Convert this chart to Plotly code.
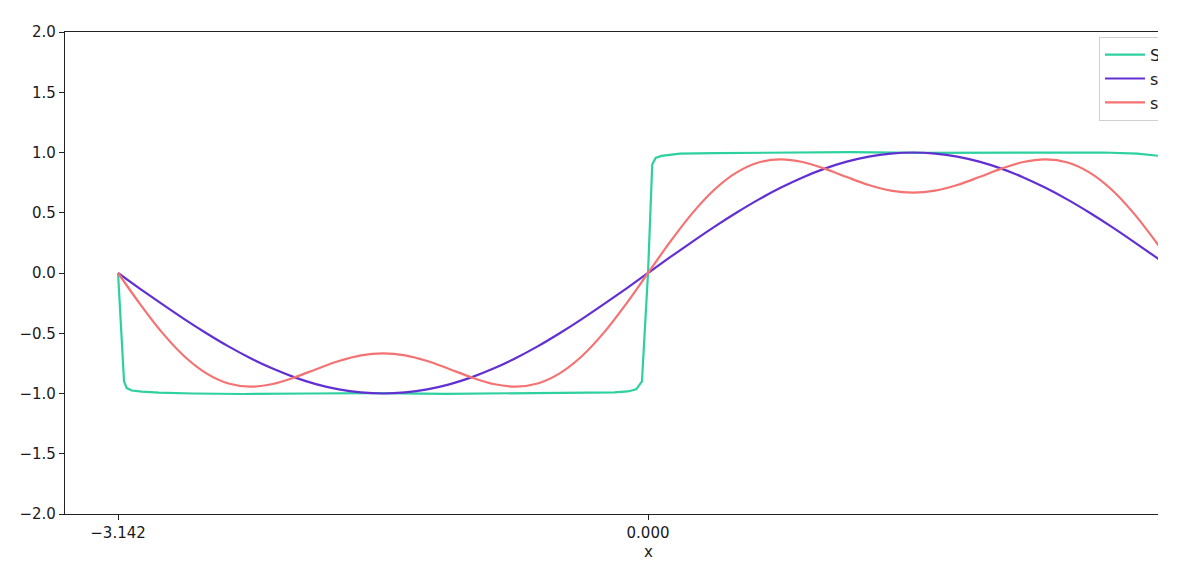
import plotly.graph_objects as go

# ---- data ----
x_smooth = [-3.1416, -3.0107, -2.8798, -2.7489, -2.6180, -2.4871, -2.3562, -2.2253, -2.0944,
            -1.9635, -1.8326, -1.7017, -1.5708, -1.4399, -1.3090, -1.1781, -1.0472, -0.9163,
            -0.7854, -0.6545, -0.5236, -0.3927, -0.2618, -0.1309, 0.0, 0.1309, 0.2618, 0.3927,
            0.5236, 0.6545, 0.7854, 0.9163, 1.0472, 1.1781, 1.3090, 1.4399, 1.5708, 1.7017,
            1.8326, 1.9635, 2.0944, 2.2253, 2.3562, 2.4871, 2.6180, 2.7489, 2.8798, 3.0107,
            3.1416]
sin_vals = [0.0, -0.131, -0.259, -0.383, -0.5, -0.609, -0.707, -0.793, -0.866, -0.924, -0.966,
            -0.991, -1.0, -0.991, -0.966, -0.924, -0.866, -0.793, -0.707, -0.609, -0.5, -0.383,
            -0.259, -0.131, 0.0, 0.131, 0.259, 0.383, 0.5, 0.609, 0.707, 0.793, 0.866, 0.924,
            0.966, 0.991, 1.0, 0.991, 0.966, 0.924, 0.866, 0.793, 0.707, 0.609, 0.5, 0.383,
            0.259, 0.131, 0.0]
two_term_vals = [0.0, -0.258, -0.495, -0.691, -0.833, -0.917, -0.943, -0.921, -0.866, -0.796,
                 -0.730, -0.683, -0.667, -0.683, -0.730, -0.796, -0.866, -0.921, -0.943, -0.917,
                 -0.833, -0.691, -0.495, -0.258, 0.0, 0.258, 0.495, 0.691, 0.833, 0.917, 0.943,
                 0.921, 0.866, 0.796, 0.730, 0.683, 0.667, 0.683, 0.730, 0.796, 0.866, 0.921,
                 0.943, 0.917, 0.833, 0.691, 0.495, 0.258, 0.0]

x_square = [-3.1416, -3.106, -3.09, -3.06, -3.0, -2.9, -2.7, -2.4, -2.0, -1.6, -1.2, -0.8,
            -0.4, -0.2, -0.12, -0.07, -0.036, 0.0, 0.025, 0.045, 0.08, 0.19, 0.4, 0.8, 1.2,
            1.6, 2.0, 2.4, 2.7, 2.9, 3.0, 3.06, 3.106, 3.1416]
square_vals = [0.0, -0.90, -0.955, -0.975, -0.985, -0.993, -1.0, -1.004, -1.0, -0.997, -1.003,
               -1.0, -0.995, -0.99, -0.983, -0.965, -0.90, 0.0, 0.90, 0.955, 0.972, 0.99,
               0.995, 1.0, 1.003, 0.997, 1.0, 1.004, 1.0, 0.99, 0.98, 0.968, 0.90, 0.0]

names = ["Square wave (Fourier, N=25)", "sin(x)", "sin(x) + sin(3x)/3"]
colors = ["#2dd09f", "#6230d2", "#f47272"]

x_tickvals = [-3.1416, 0.0, 3.1416]
x_ticktext = ["\u22123.142", "0.000", "3.142"]
x_range = [-3.456, 3.023]
y_range = [-2.0, 2.0]

title_text = "Approaching a Square Wave"

# ---- figure ----
FONT = "DejaVu Sans"
TXT = "#1a1a1a"
fig = go.Figure()
fig.add_trace(go.Scatter(x=x_square, y=square_vals, mode="lines", name=names[0],
                         line=dict(color=colors[0], width=2.2)))
fig.add_trace(go.Scatter(x=x_smooth, y=sin_vals, mode="lines", name=names[1],
                         line=dict(color=colors[1], width=2.2, shape="spline")))
fig.add_trace(go.Scatter(x=x_smooth, y=two_term_vals, mode="lines", name=names[2],
                         line=dict(color=colors[2], width=2.2, shape="spline")))

fig.update_layout(
    width=1150, height=572,
    margin=dict(l=57, r=0, t=24, b=66, autoexpand=False),
    plot_bgcolor="white", paper_bgcolor="white",
    font=dict(family=FONT, size=15, color=TXT),
    showlegend=True,
    legend=dict(x=0.946, y=0.99, xanchor="left", yanchor="top",
                bgcolor="rgba(255,255,255,0.8)", bordercolor="#d0d0d0", borderwidth=1,
                font=dict(size=16, family=FONT), tracegroupgap=0, itemwidth=40),
)
fig.update_xaxes(range=x_range, tickvals=x_tickvals, ticktext=x_ticktext,
                 showgrid=False, zeroline=False, showline=True, linecolor="#222",
                 linewidth=1.2, mirror=True, ticks="outside", ticklen=5, tickwidth=1.2,
                 tickcolor="#222")
fig.update_yaxes(range=y_range, dtick=0.5, tick0=0, tickformat=".1f",
                 showgrid=False, zeroline=False, showline=True, linecolor="#222",
                 linewidth=1.2, mirror=False, ticks="outside", ticklen=5, tickwidth=1.2,
                 tickcolor="#222")
# title, almost entirely above the visible page (only descenders show)
fig.add_annotation(text=title_text, x=0.5334, xref="paper", y=1.060, yref="paper",
                   xanchor="center", yanchor="bottom", showarrow=False,
                   font=dict(size=18, family=FONT, color=TXT))
fig.add_annotation(text="x", x=0.5334, xref="paper", y=-0.079, yref="paper",
                   xanchor="center", yanchor="middle", showarrow=False,
                   font=dict(size=15, family=FONT, color=TXT))

fig.write_html("out.html")
